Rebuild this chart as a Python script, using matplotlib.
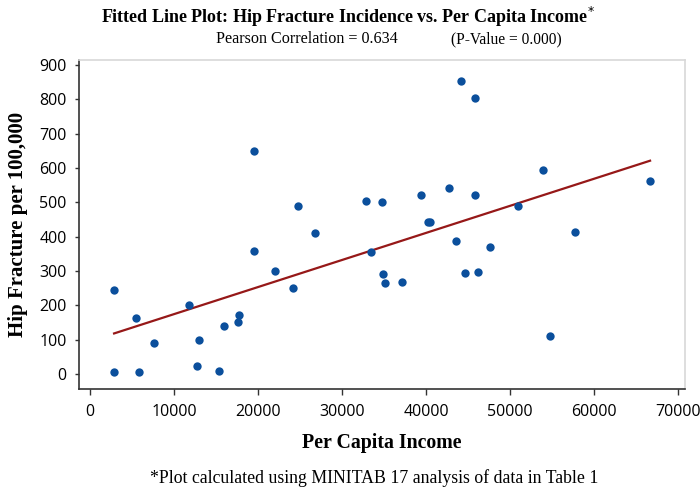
import numpy as np
import matplotlib.pyplot as plt

# per capita income (x) and hip fracture incidence per 100,000 (y)
income = [2860, 2860, 5520, 5840, 7630, 11760, 12990, 12790, 15380, 15930,
          17640, 17720, 19510, 19470, 22050, 24150, 24710, 26780, 32900, 33490,
          34800, 34920, 35120, 37150, 39410, 40200, 40500, 42790, 43580, 44180,
          44660, 45850, 45850, 46130, 47640, 50890, 53960, 54740, 57770, 66670]
hip_fracture = [245, 5, 162, 5, 89, 202, 100, 23, 9, 140,
                150, 173, 650, 358, 300, 249, 490, 410, 505, 356,
                501, 290, 264, 268, 522, 442, 442, 541, 388, 853,
                293, 803, 522, 297, 369, 490, 595, 111, 413, 563]

x = np.array(income)
y = np.array(hip_fracture)
slope, intercept = np.polyfit(x, y, 1)
xfit = np.linspace(x.min(), x.max(), 100)

fig = plt.figure(figsize=(7, 4.93), dpi=100)
ax = fig.add_axes([0.1129, 0.211, 0.8657, 0.6673])

ax.plot(xfit, intercept + slope * xfit, color="#961818", lw=1.6, zorder=2)
ax.scatter(x, y, s=36, color="#0b4f9c", zorder=3, linewidths=0)

ax.set_xlim(-1312, 70830)
ax.set_ylim(-44, 915)
ax.set_xticks(range(0, 70001, 10000))
ax.set_yticks(range(0, 901, 100))

tickfont = dict(family="Open Sans", size=11.5)
ax.set_xticklabels([str(v) for v in range(0, 70001, 10000)], **tickfont)
ax.set_yticklabels([str(v) for v in range(0, 901, 100)], **tickfont)
ax.tick_params(axis="x", length=4, width=1, color="#333333", pad=7)
ax.tick_params(axis="y", length=3, width=1, color="#333333", pad=6)

for s in ["left", "bottom"]:
    ax.spines[s].set_color("#333333")
    ax.spines[s].set_linewidth(1.2)
for s in ["top", "right"]:
    ax.spines[s].set_color("#d8d8d8")
    ax.spines[s].set_linewidth(1.2)

ax.set_xlabel("Per Capita Income", family="Liberation Serif", fontweight="bold",
              fontsize=14.3, labelpad=9)
ax.set_ylabel("Hip Fracture per 100,000", family="Liberation Serif", fontweight="bold",
              fontsize=15, labelpad=8)

fig.text(0.497, 0.966, "Fitted Line Plot: Hip Fracture Incidence vs. Per Capita Income$^{*}$",
         ha="center", va="center", family="Liberation Serif", fontweight="bold", fontsize=13)
fig.text(0.439, 0.92, "Pearson Correlation = 0.634", ha="center", va="center",
         family="Liberation Serif", fontsize=11.6)
fig.text(0.723, 0.92, "(P-Value = 0.000)", ha="center", va="center",
         family="Liberation Serif", fontsize=11.2)
fig.text(0.534, 0.03, "*Plot calculated using MINITAB 17 analysis of data in Table 1",
         ha="center", va="center", family="Liberation Serif", fontsize=12.8)

fig.savefig("out.png", dpi=100)
